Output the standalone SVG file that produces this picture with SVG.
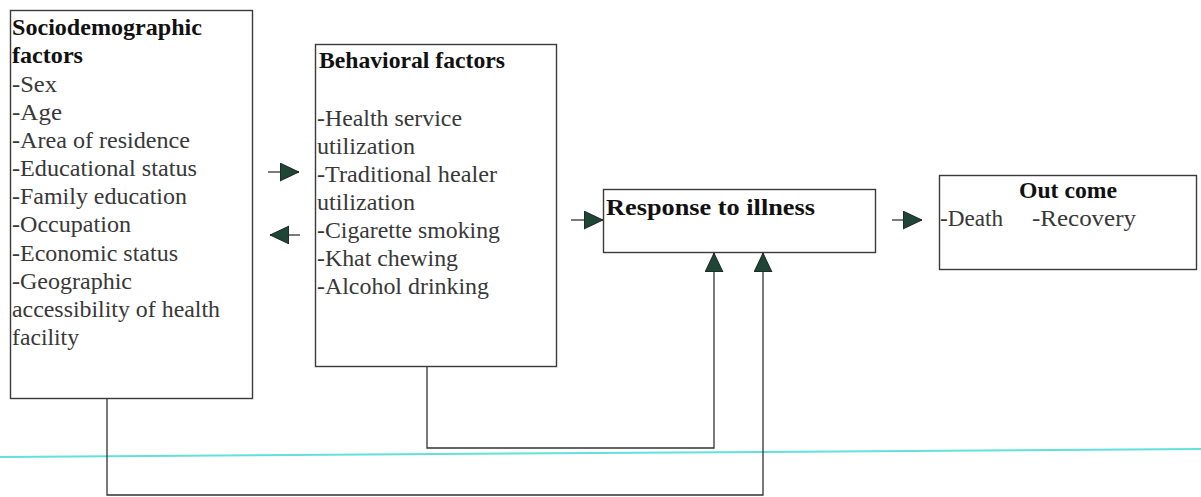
<svg xmlns="http://www.w3.org/2000/svg" width="1201" height="497" viewBox="0 0 1201 497">
<style>
.box{fill:#fff;stroke:#3a3a3a;stroke-width:1.4}
.t{font-family:"Liberation Serif","Times New Roman",serif;font-size:23px;fill:#383838}
.b{font-family:"Liberation Serif","Times New Roman",serif;font-size:23px;font-weight:bold;fill:#111}
.c{fill:none;stroke:#333;stroke-width:1.3}
</style>
<defs>
<marker id="ah" markerUnits="userSpaceOnUse" markerWidth="21" markerHeight="20" refX="19" refY="9" orient="auto">
<path d="M0,0 L19,9 L0,18 Z" fill="#1f4536" stroke="#111" stroke-width="0.8"/>
</marker>
</defs>
<rect width="1201" height="497" fill="#fff"/>
<line x1="0" y1="457" x2="1201" y2="449" stroke="#62e0dc" stroke-width="2"/>
<g id="connectors">
<path class="c" d="M427,367 V448 H714 V253" marker-end="url(#ah)"/>
<path class="c" d="M107,399 V495 H763 V253" marker-end="url(#ah)"/>
<line class="c" x1="268" y1="172" x2="299" y2="172" marker-end="url(#ah)"/>
<line class="c" x1="300" y1="235" x2="270" y2="235" marker-end="url(#ah)"/>
<line class="c" x1="571" y1="220" x2="603" y2="220" marker-end="url(#ah)"/>
<line class="c" x1="892" y1="220" x2="922" y2="220" marker-end="url(#ah)"/>
</g>
<g id="sociodemographic">
<rect class="box" x="10.5" y="10.5" width="242" height="388"/>
<text class="b" x="12" y="35" textLength="190" lengthAdjust="spacingAndGlyphs">Sociodemographic</text>
<text class="b" x="12" y="63" textLength="71" lengthAdjust="spacingAndGlyphs">factors</text>
<text class="t" x="12" y="92" textLength="45" lengthAdjust="spacingAndGlyphs">-Sex</text>
<text class="t" x="12" y="120" textLength="50" lengthAdjust="spacingAndGlyphs">-Age</text>
<text class="t" x="12" y="148" textLength="178" lengthAdjust="spacingAndGlyphs">-Area of residence</text>
<text class="t" x="12" y="176" textLength="185" lengthAdjust="spacingAndGlyphs">-Educational status</text>
<text class="t" x="12" y="204" textLength="175" lengthAdjust="spacingAndGlyphs">-Family education</text>
<text class="t" x="12" y="232" textLength="119" lengthAdjust="spacingAndGlyphs">-Occupation</text>
<text class="t" x="12" y="261" textLength="166" lengthAdjust="spacingAndGlyphs">-Economic status</text>
<text class="t" x="12" y="289" textLength="120" lengthAdjust="spacingAndGlyphs">-Geographic</text>
<text class="t" x="12" y="317" textLength="208" lengthAdjust="spacingAndGlyphs">accessibility of health</text>
<text class="t" x="12" y="345" textLength="67" lengthAdjust="spacingAndGlyphs">facility</text>
</g>
<g id="behavioral">
<rect class="box" x="315.5" y="44.5" width="241" height="322"/>
<text class="b" x="319" y="68" textLength="186" lengthAdjust="spacingAndGlyphs">Behavioral factors</text>
<text class="t" x="317" y="126" textLength="145" lengthAdjust="spacingAndGlyphs">-Health service</text>
<text class="t" x="317" y="154" textLength="98" lengthAdjust="spacingAndGlyphs">utilization</text>
<text class="t" x="317" y="182" textLength="180" lengthAdjust="spacingAndGlyphs">-Traditional healer</text>
<text class="t" x="317" y="210" textLength="98" lengthAdjust="spacingAndGlyphs">utilization</text>
<text class="t" x="317" y="238" textLength="183" lengthAdjust="spacingAndGlyphs">-Cigarette smoking</text>
<text class="t" x="317" y="266" textLength="141" lengthAdjust="spacingAndGlyphs">-Khat chewing</text>
<text class="t" x="317" y="294" textLength="172" lengthAdjust="spacingAndGlyphs">-Alcohol drinking</text>
</g>
<g id="response">
<rect class="box" x="603.5" y="189.5" width="272" height="63"/>
<text class="b" x="606" y="215" font-size="24" textLength="209" lengthAdjust="spacingAndGlyphs">Response to illness</text>
</g>
<g id="outcome">
<rect class="box" x="939.5" y="175.5" width="257" height="94"/>
<text class="b" x="1019" y="198" textLength="98" lengthAdjust="spacingAndGlyphs">Out come</text>
<text class="t" x="940" y="226" textLength="63" lengthAdjust="spacingAndGlyphs">-Death</text>
<text class="t" x="1032" y="226" textLength="104" lengthAdjust="spacingAndGlyphs">-Recovery</text>
</g>
</svg>
